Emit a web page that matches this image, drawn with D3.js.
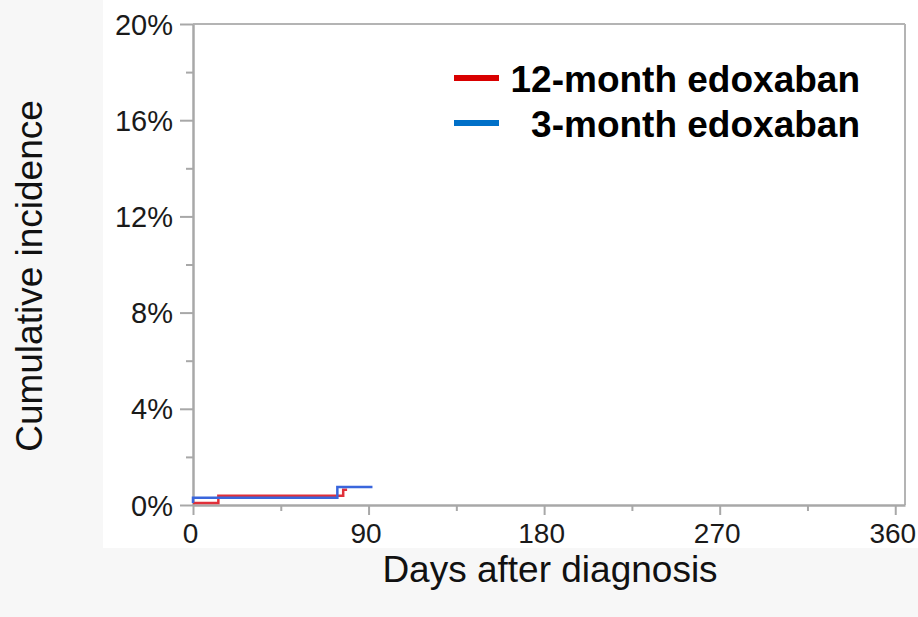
<!DOCTYPE html>
<html><head><meta charset="utf-8">
<script src="https://cdn.jsdelivr.net/npm/d3@7"></script>
<style>
html,body{margin:0;padding:0;background:#f7f7f7;}
svg{display:block;}
</style></head>
<body>
<svg id="chart" width="918" height="617"></svg>
<script>
// ---- data ----
const xTickValues = [0, 90, 180, 270, 360];
const xMinorTicks = [45, 135, 225, 315];
const yTickValues = [0, 4, 8, 12, 16, 20];
const yMinorTicks = [2, 6, 10, 14, 18];
const seriesNames = ["12-month edoxaban", "3-month edoxaban"];
const red12Days = [0, 13, 77, 79];
const red12Vals = [0.08, 0.38, 0.63, 0.63];
const blue3Days = [0, 0, 74, 92];
const blue3Vals = [0.08, 0.3, 0.75, 0.75];

(function () {
const svg = d3.select("#chart");
const W = 918, H = 617;
const pLeft = 193, pRight = 905, pTop = 24, pBottom = 505;

svg.append("rect").attr("x", 0).attr("y", 0).attr("width", W).attr("height", H).attr("fill", "#f7f7f7");
svg.append("rect").attr("x", 103).attr("y", 0).attr("width", W - 103).attr("height", 548).attr("fill", "#ffffff");

const x = d3.scaleLinear().domain([0, 365]).range([pLeft, pRight]);
const y = d3.scaleLinear().domain([0, 20]).range([pBottom, pTop]);

const axisColor = "#a8a8a8";
const font = "'Liberation Sans', Arial, sans-serif";

// box top/right
svg.append("line").attr("x1", pLeft).attr("x2", pRight).attr("y1", pTop).attr("y2", pTop)
  .attr("stroke", "#b4b4b4").attr("stroke-width", 2);
svg.append("line").attr("x1", pRight).attr("x2", pRight).attr("y1", pTop).attr("y2", pBottom)
  .attr("stroke", "#b4b4b4").attr("stroke-width", 2);

// x axis
const xAxis = d3.axisBottom(x).tickValues(xTickValues).tickSize(10).tickPadding(8).tickSizeOuter(0);
const gx = svg.append("g").attr("transform", `translate(0,${pBottom})`).call(xAxis);
const xMinor = d3.axisBottom(x).tickValues(xMinorTicks).tickSize(6).tickFormat("").tickSizeOuter(0);
const gxm = svg.append("g").attr("transform", `translate(0,${pBottom})`).call(xMinor);
gxm.select(".domain").remove();

// y axis
const yAxis = d3.axisLeft(y).tickValues(yTickValues).tickSize(13).tickPadding(7)
  .tickFormat(d => d + "%").tickSizeOuter(0);
const gy = svg.append("g").attr("transform", `translate(${pLeft},0)`).call(yAxis);
const yMinor = d3.axisLeft(y).tickValues(yMinorTicks).tickSize(7).tickFormat("").tickSizeOuter(0);
const gym = svg.append("g").attr("transform", `translate(${pLeft},0)`).call(yMinor);
gym.select(".domain").remove();

[gx, gxm, gy, gym].forEach(g => {
  g.selectAll(".domain").attr("stroke", axisColor).attr("stroke-width", 2.5);
  g.selectAll(".tick line").attr("stroke", axisColor).attr("stroke-width", 2);
  g.selectAll(".tick text").attr("fill", "#1a1a1a").attr("font-family", font).attr("font-size", 29);
});
gx.selectAll(".tick text").attr("dy", "0.71em").attr("dx", -3).attr("font-size", 28);
gy.selectAll(".tick text").attr("dy", "0.35em");

// curves
const line = d3.line().x(d => x(d[0])).y(d => y(d[1])).curve(d3.curveStepAfter);
const redPts = red12Days.map((d, i) => [d, red12Vals[i]]);
const bluePts = blue3Days.map((d, i) => [d, blue3Vals[i]]);
svg.append("path").datum(redPts).attr("d", line).attr("fill", "none")
  .attr("stroke", "#e0303a").attr("stroke-width", 2.5);
svg.append("path").datum(bluePts).attr("d", line).attr("fill", "none")
  .attr("stroke", "#3a66dc").attr("stroke-width", 2.5);

// legend
const legColors = ["#d90000", "#0070c8"];
const legY = [78, 123];
seriesNames.forEach((name, i) => {
  svg.append("line").attr("x1", 454).attr("x2", 499).attr("y1", legY[i]).attr("y2", legY[i])
    .attr("stroke", legColors[i]).attr("stroke-width", 6);
  svg.append("text").attr("x", 860).attr("y", legY[i] + 14).attr("text-anchor", "end")
    .attr("font-family", font).attr("font-weight", "bold").attr("font-size", 37)
    .attr("fill", "#000").text(name);
});

// axis titles
svg.append("text").attr("x", 550).attr("y", 582).attr("text-anchor", "middle")
  .attr("font-family", font).attr("font-size", 37).attr("fill", "#111").text("Days after diagnosis");
svg.append("text").attr("transform", "translate(42,276) rotate(-90)").attr("text-anchor", "middle")
  .attr("font-family", font).attr("font-size", 37).attr("fill", "#111").text("Cumulative incidence");
})();
</script>
</body></html>
